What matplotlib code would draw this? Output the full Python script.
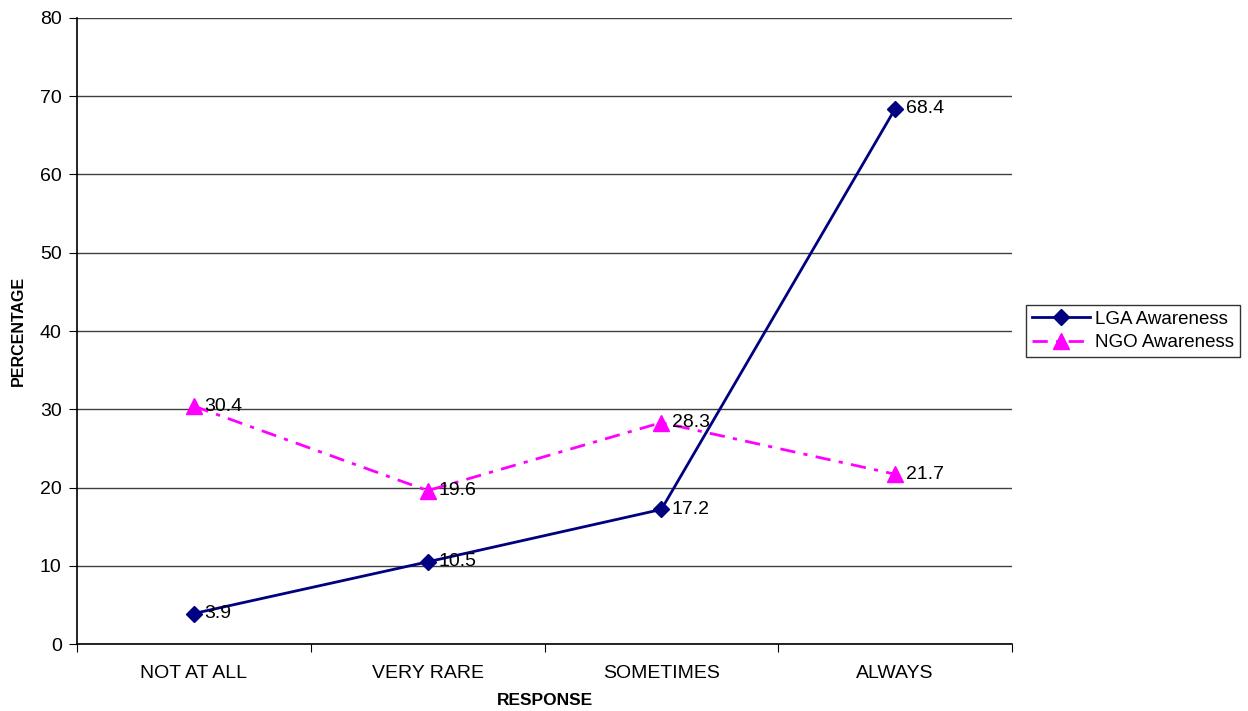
import matplotlib
matplotlib.use("Agg")
import matplotlib.pyplot as plt
import numpy as np

categories = ["NOT AT ALL", "VERY RARE", "SOMETIMES", "ALWAYS"]
lga_awareness = [3.9, 10.5, 17.2, 68.4]
ngo_awareness = [30.4, 19.6, 28.3, 21.7]

plt.rcParams["font.family"] = ["Liberation Sans", "DejaVu Sans"]

fig = plt.figure(figsize=(12.48, 7.11), dpi=100)
ax = fig.add_axes([0.0617, 0.0942, 0.7492, 0.8805])

x = np.arange(len(categories)) + 0.5

ax.plot(x, lga_awareness, color="#000080", lw=2, marker="D", markersize=8.5,
        label="LGA Awareness", zorder=3)
ax.plot(x, ngo_awareness, color="#FF00FF", lw=2, marker="^", markersize=11,
        dashes=[5.5, 3, 1.5, 3], label="NGO Awareness", zorder=3)

for series in (lga_awareness, ngo_awareness):
    for xi, v in zip(x, series):
        ax.annotate(f"{v}", (xi, v), xytext=(7.5, 0), textcoords="offset points",
                    va="center", ha="left", fontsize=14)

ax.set_xlim(0, len(categories))
ax.set_ylim(0, 80)
ax.set_yticks(np.arange(0, 81, 10))
ax.set_xticks(np.arange(0, len(categories) + 1))
ax.set_xticklabels([])
ax.set_xticks(x, minor=True)
ax.set_xticklabels(categories, minor=True)
ax.tick_params(axis="x", which="minor", length=0, pad=15, labelsize=14)
ax.tick_params(axis="x", which="major", length=6, direction="out", color="black")
ax.tick_params(axis="y", length=6, direction="out", labelsize=14, pad=5)

ax.grid(axis="y", color="#404040", lw=1)
ax.set_axisbelow(True)
for side in ("top", "right"):
    ax.spines[side].set_visible(False)
for side in ("left", "bottom"):
    ax.spines[side].set_color("black")
    ax.spines[side].set_linewidth(1.2)

ax.set_xlabel("RESPONSE", fontsize=12.5, fontweight="bold", labelpad=8)
ax.set_ylabel("PERCENTAGE", fontsize=11.5, fontweight="bold", labelpad=10)

leg = fig.legend(loc="upper left", bbox_to_anchor=(1026 / 1248, 1 - 305 / 711),
                 frameon=True, fancybox=False, edgecolor="black", fontsize=13.5,
                 handlelength=3.1, borderpad=0.3, labelspacing=0.35,
                 handletextpad=0.3, borderaxespad=0)
leg.get_frame().set_linewidth(1)

fig.savefig("out.png", dpi=100)
